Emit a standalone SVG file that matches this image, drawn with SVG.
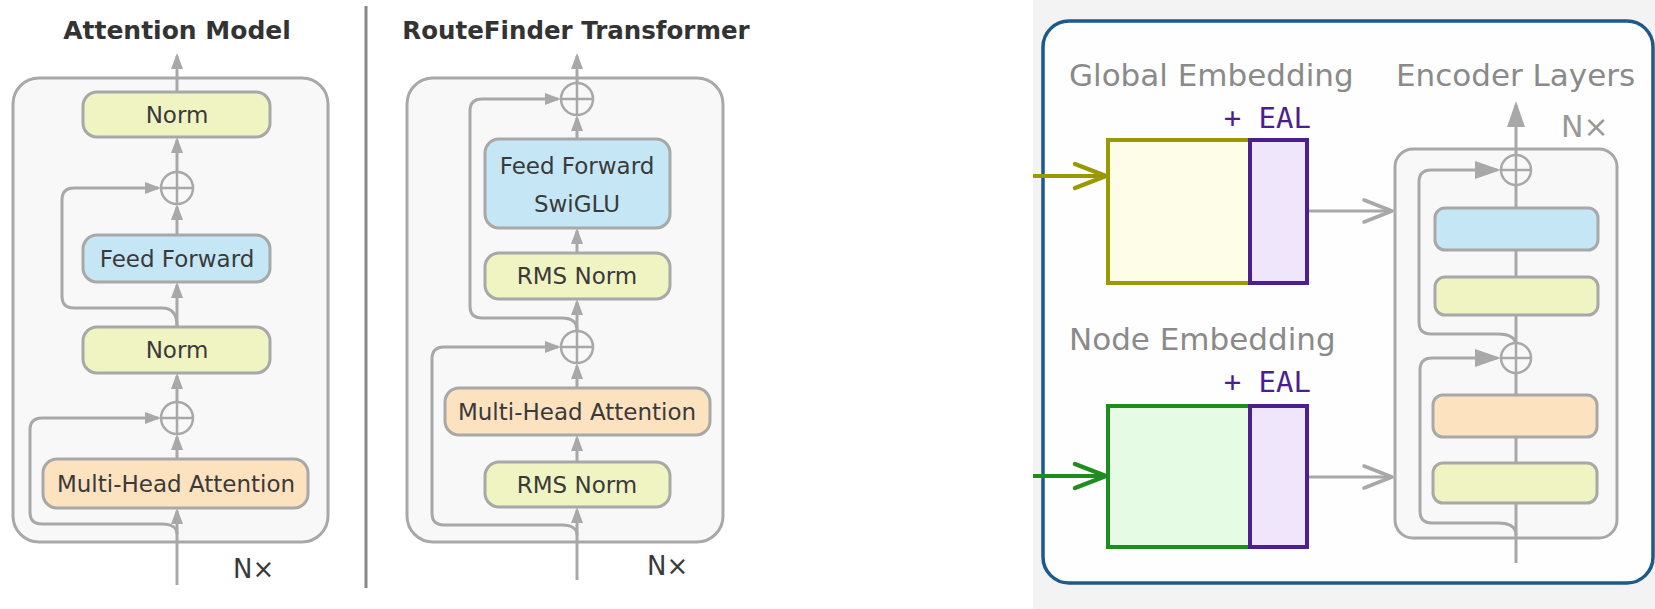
<svg xmlns="http://www.w3.org/2000/svg" width="1655" height="609" viewBox="0 0 1655 609">
  <style>
    .lbl { font-family: "DejaVu Sans", "Liberation Sans", sans-serif; font-size: 23px; fill: #3a3a3a; text-anchor: middle; }
    .title { font-family: "DejaVu Sans", "Liberation Sans", sans-serif; font-weight: bold; fill: #333333; text-anchor: middle; }
    .nx { font-family: "DejaVu Sans", "Liberation Sans", sans-serif; font-size: 26px; fill: #3a3a3a; }
    .cap { font-family: "DejaVu Sans", "Liberation Sans", sans-serif; font-size: 31px; fill: #8a8a8a; }
    .eal { font-family: "DejaVu Sans Mono", "Liberation Mono", monospace; font-size: 29px; fill: #4b1f8f; text-anchor: end; }
    .frame { fill: #f8f8f8; stroke: #a8a8a8; stroke-width: 3; }
    .yel { fill: #f0f3c2; stroke: #a8a8a8; stroke-width: 3; }
    .blu { fill: #c5e6f5; stroke: #a8a8a8; stroke-width: 3; }
    .org { fill: #fde2c0; stroke: #a8a8a8; stroke-width: 3; }
    .wire { fill: none; stroke: #a8a8a8; stroke-width: 3; }
    .plus circle { fill: none; stroke: #a8a8a8; stroke-width: 2.5; }
    .plus path { fill: none; stroke: #a8a8a8; stroke-width: 2.5; }
  </style>
  <defs>
    <marker id="tri" viewBox="0 0 16 12" refX="13" refY="6" markerWidth="16" markerHeight="12" markerUnits="userSpaceOnUse" orient="auto">
      <path d="M0,0 L16,6 L0,12 z" fill="#a8a8a8"/>
    </marker>
    <marker id="triL" viewBox="0 0 26 18" refX="22" refY="9" markerWidth="26" markerHeight="18" markerUnits="userSpaceOnUse" orient="auto">
      <path d="M0,0 L26,9 L0,18 z" fill="#a8a8a8"/>
    </marker>
    <marker id="chevGray" viewBox="0 0 34 28" refX="31" refY="14" markerWidth="34" markerHeight="28" markerUnits="userSpaceOnUse" orient="auto">
      <path d="M3,3 L31,14 L3,25" fill="none" stroke="#a8a8a8" stroke-width="3.5" stroke-linecap="round" stroke-linejoin="round"/>
    </marker>
    <marker id="chevOlive" viewBox="0 0 38 30" refX="34" refY="15" markerWidth="38" markerHeight="30" markerUnits="userSpaceOnUse" orient="auto">
      <path d="M3,3 L34,15 L3,27" fill="none" stroke="#9a9a00" stroke-width="4.5" stroke-linecap="round" stroke-linejoin="round"/>
    </marker>
    <marker id="chevGreen" viewBox="0 0 38 30" refX="34" refY="15" markerWidth="38" markerHeight="30" markerUnits="userSpaceOnUse" orient="auto">
      <path d="M3,3 L34,15 L3,27" fill="none" stroke="#1e8c1e" stroke-width="4.5" stroke-linecap="round" stroke-linejoin="round"/>
    </marker>
  </defs>

  <!-- page backgrounds -->
  <rect x="0" y="0" width="1655" height="609" fill="#ffffff"/>
  <rect x="1033" y="0" width="622" height="609" fill="#f3f3f3"/>
  <rect x="1043" y="21" width="610" height="562" rx="26" fill="#fefefe" stroke="#1d5a8c" stroke-width="3.5"/>

  <!-- separator between the two block diagrams -->
  <line x1="366" y1="6" x2="366" y2="588" stroke="#888888" stroke-width="3"/>

  <!-- titles and captions -->
  <text class="title" x="177" y="39" font-size="25">Attention Model</text>
  <text class="title" x="576" y="39" font-size="24.5">RouteFinder Transformer</text>
  <text class="nx" x="233" y="578">N×</text>
  <text class="nx" x="647" y="575">N×</text>
  <text class="cap" x="1069" y="86">Global Embedding</text>
  <text class="cap" x="1396" y="86">Encoder Layers</text>
  <text class="cap" x="1069" y="350">Node Embedding</text>
  <text class="eal" x="1311" y="128">+ EAL</text>
  <text class="eal" x="1311" y="392">+ EAL</text>
  <text class="cap" x="1561" y="137" style="font-size:30px; fill:#999999">N×</text>

  <!-- repeated-block frames -->
  <g id="am-frame"><rect class="frame" x="13" y="78" width="315" height="464" rx="26"/></g>
  <g id="rf-frame"><rect class="frame" x="407" y="78" width="316" height="464" rx="26"/></g>
  <g id="enc-frame"><rect class="frame" x="1395" y="149" width="222" height="389" rx="18"/></g>

  <g id="connectors">
    <!-- Attention Model -->
    <path class="wire" marker-end="url(#tri)" d="M177,585 L177,511"/>
    <path class="wire" marker-end="url(#tri)" d="M177,459 L177,437"/>
    <path class="wire" marker-end="url(#tri)" d="M177,402 L177,376"/>
    <path class="wire" marker-end="url(#tri)" d="M177,327 L177,285"/>
    <path class="wire" marker-end="url(#tri)" d="M177,235 L177,207"/>
    <path class="wire" marker-end="url(#tri)" d="M177,172 L177,140"/>
    <path class="wire" marker-end="url(#tri)" d="M177,92 L177,56"/>
    <path class="wire" marker-end="url(#tri)" d="M177,326 C177,314 172,308 162,308 L74,308 Q62,308 62,296 L62,200 Q62,188 74,188 L158,188"/>
    <path class="wire" marker-end="url(#tri)" d="M177,534 C177,528 172,524 162,524 L42,524 Q30,524 30,512 L30,430 Q30,418 42,418 L158,418"/>

    <!-- RouteFinder Transformer -->
    <path class="wire" marker-end="url(#tri)" d="M577,580 L577,510"/>
    <path class="wire" marker-end="url(#tri)" d="M577,462 L577,438"/>
    <path class="wire" marker-end="url(#tri)" d="M577,388 L577,366"/>
    <path class="wire" marker-end="url(#tri)" d="M577,331 L577,302"/>
    <path class="wire" marker-end="url(#tri)" d="M577,253 L577,231"/>
    <path class="wire" marker-end="url(#tri)" d="M577,139 L577,118"/>
    <path class="wire" marker-end="url(#tri)" d="M577,83 L577,56"/>
    <path class="wire" marker-end="url(#tri)" d="M577,330 C577,322 572,318 562,318 L482,318 Q470,318 470,306 L470,111 Q470,99 482,99 L558,99"/>
    <path class="wire" marker-end="url(#tri)" d="M577,535 C577,529 572,525 562,525 L444,525 Q432,525 432,513 L432,359 Q432,347 444,347 L558,347"/>

    <!-- embeddings into the encoder -->
    <path fill="none" stroke="#9a9a00" stroke-width="4" marker-end="url(#chevOlive)" d="M1033,176 L1106,176"/>
    <path fill="none" stroke="#1e8c1e" stroke-width="4" marker-end="url(#chevGreen)" d="M1033,476 L1106,476"/>
    <path class="wire" marker-end="url(#chevGray)" d="M1307,211 L1392,211"/>
    <path class="wire" marker-end="url(#chevGray)" d="M1307,477 L1392,477"/>

    <!-- encoder stack -->
    <path class="wire" marker-end="url(#triL)" d="M1516,563 L1516,105"/>
    <path class="wire" marker-end="url(#triL)" d="M1516,346 C1516,338 1510,334 1498,334 L1431,334 Q1419,334 1419,322 L1419,182 Q1419,170 1431,170 L1497,170"/>
    <path class="wire" marker-end="url(#triL)" d="M1516,535 C1516,527 1510,523 1498,523 L1432,523 Q1420,523 1420,511 L1420,370 Q1420,358 1432,358 L1497,358"/>
  </g>

  <!-- Attention Model blocks -->
  <g id="am-norm-out"><rect class="yel" x="83" y="92" width="187" height="45" rx="14"/><text class="lbl" x="177" y="123">Norm</text></g>
  <g id="am-add-ff" class="plus"><circle cx="177" cy="188" r="16"/><path d="M161,188 H193 M177,172 V204"/></g>
  <g id="am-ff"><rect class="blu" x="83" y="235" width="187" height="47" rx="14"/><text class="lbl" x="177" y="267">Feed Forward</text></g>
  <g id="am-norm-mid"><rect class="yel" x="83" y="327" width="187" height="46" rx="14"/><text class="lbl" x="177" y="358">Norm</text></g>
  <g id="am-add-att" class="plus"><circle cx="177" cy="418" r="16"/><path d="M161,418 H193 M177,402 V434"/></g>
  <g id="am-mha"><rect class="org" x="43" y="459" width="265" height="49" rx="14"/><text class="lbl" x="176" y="492">Multi-Head Attention</text></g>

  <!-- RouteFinder Transformer blocks -->
  <g id="rf-add-ff" class="plus"><circle cx="577" cy="99" r="16"/><path d="M561,99 H593 M577,83 V115"/></g>
  <g id="rf-ff"><rect class="blu" x="485" y="139" width="185" height="89" rx="14"/><text class="lbl" x="577" y="174">Feed Forward</text><text class="lbl" x="577" y="212">SwiGLU</text></g>
  <g id="rf-rms-ff"><rect class="yel" x="485" y="253" width="185" height="46" rx="14"/><text class="lbl" x="577" y="284">RMS Norm</text></g>
  <g id="rf-add-att" class="plus"><circle cx="577" cy="347" r="16"/><path d="M561,347 H593 M577,331 V363"/></g>
  <g id="rf-mha"><rect class="org" x="445" y="388" width="265" height="47" rx="14"/><text class="lbl" x="577" y="420">Multi-Head Attention</text></g>
  <g id="rf-rms-att"><rect class="yel" x="485" y="462" width="185" height="45" rx="14"/><text class="lbl" x="577" y="493">RMS Norm</text></g>

  <!-- embedding tables -->
  <g id="global-emb">
    <rect x="1108" y="140" width="142" height="143" fill="#fefee8" stroke="#9a9a00" stroke-width="4"/>
    <rect x="1250" y="140" width="57" height="143" fill="#efe6fc" stroke="#4b1f8f" stroke-width="4"/>
  </g>
  <g id="node-emb">
    <rect x="1108" y="406" width="142" height="141" fill="#e6fbe3" stroke="#1e8c1e" stroke-width="4"/>
    <rect x="1250" y="406" width="57" height="141" fill="#efe6fc" stroke="#4b1f8f" stroke-width="4"/>
  </g>

  <!-- encoder layer stack -->
  <g id="enc-add-ff" class="plus"><circle cx="1516" cy="170" r="15" fill="#f8f8f8" style="fill:#f8f8f8"/><path d="M1501,170 H1531 M1516,155 V185"/></g>
  <g id="enc-ff"><rect class="blu" x="1435" y="208" width="163" height="42" rx="10"/></g>
  <g id="enc-norm-ff"><rect class="yel" x="1435" y="277" width="163" height="38" rx="10"/></g>
  <g id="enc-add-att" class="plus"><circle cx="1516" cy="358" r="15" style="fill:#f8f8f8"/><path d="M1501,358 H1531 M1516,343 V373"/></g>
  <g id="enc-att"><rect class="org" x="1433" y="395" width="164" height="42" rx="10"/></g>
  <g id="enc-norm-att"><rect class="yel" x="1433" y="463" width="164" height="40" rx="10"/></g>
</svg>
